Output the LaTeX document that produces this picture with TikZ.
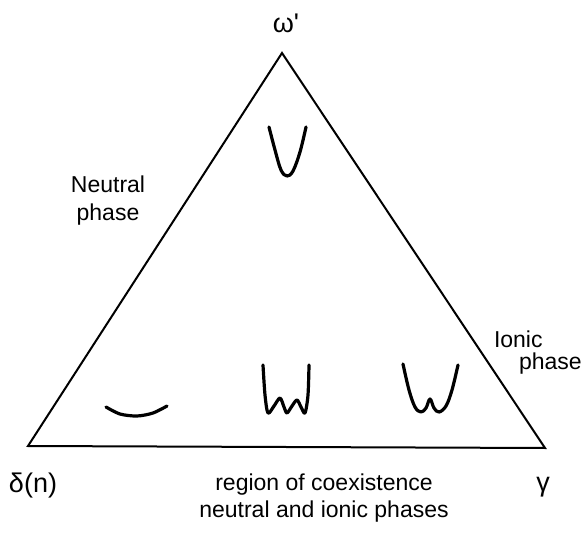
\documentclass[tikz,border=0pt]{standalone}
\usepackage{fontspec}
\setmainfont{Liberation Sans}
\usepackage{tikz}
\usetikzlibrary{positioning}

\tikzset{
  lbl/.style={inner sep=0pt, font=\fontsize{23}{28}\selectfont},
  greek/.style={inner sep=0pt, font=\fontsize{27}{30}\selectfont},
  well/.style={line width=3.2pt, line cap=round, line join=round},
}

\begin{document}
\begin{tikzpicture}[x=1pt, y=-1pt, line width=2pt]
  \useasboundingbox (0,0) rectangle (582,543);

  % corners of the triangle
  \coordinate (wtop) at (282,53);
  \coordinate (dcorner) at (28,446);
  \coordinate (gcorner) at (545,448);

  \draw[line join=miter] (wtop) -- (dcorner) -- (gcorner) -- cycle;

  % corner labels
  \node[greek, anchor=base] (omega) at (286,33) {ω\textquotesingle};
  \node[greek, anchor=base west] (delta) at (8,492) {δ(n)};
  \node[greek, anchor=base] (gamma) at (543,491) {γ};

  % phases
  \node[lbl, anchor=north, align=center] (neutral) at (108,175) {Neutral\\phase};
  \node[lbl, anchor=base west] (ionic) at (493,347) {Ionic};
  \node[lbl, anchor=base west] (ionph) at (518,369) {phase};
  \node[lbl, anchor=north, align=center, font=\fontsize{23}{27}\selectfont] (coex) at (324,473)
    {region of coexistence\\neutral and ionic phases};

  % potential wells
  \draw[well] plot[smooth, tension=0.6] coordinates
    {(269,127) (275,150) (281,170) (287,176) (293,171) (300,152) (306,127)};
  \draw[well] plot[smooth] coordinates
    {(106,407) (120,414) (137,416) (153,413) (167,406)};
  \draw[well] plot[smooth, tension=0.5] coordinates
    {(263,365) (265,395) (268,413) (274,406) (280,398) (284,407) (287,413)
     (292,406) (297,400) (301,407) (305,413) (308,395) (309,365)};
  \draw[well] plot[smooth, tension=0.6] coordinates
    {(403,364) (409,390) (415,407) (421,412) (426,408) (430,399) (434,408)
     (439,412) (446,406) (452,390) (458,365)};
\end{tikzpicture}
\end{document}
